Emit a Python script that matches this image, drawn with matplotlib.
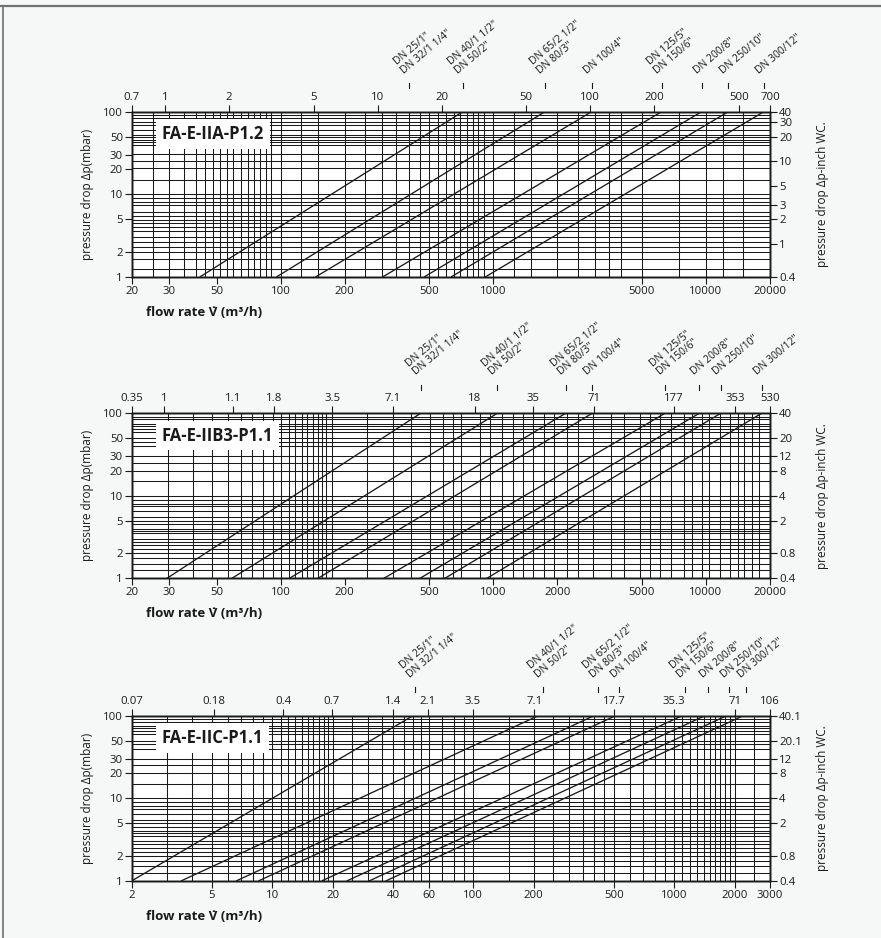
import matplotlib
matplotlib.use("Agg")
import matplotlib.pyplot as plt
from matplotlib.transforms import blended_transform_factory, ScaledTranslation
from matplotlib.lines import Line2D

plt.rcParams['font.family'] = ['Open Sans', 'DejaVu Sans']

# ---------------- FA-E-IIA-P1.2 ----------------
iia_title = "FA-E-IIA-P1.2"
iia_xlim = (20, 20000)
iia_xticks = [20, 30, 50, 100, 200, 500, 1000, 5000, 10000, 20000]
iia_top_pos = [20, 28.6, 57.1, 142.9, 285.7, 571.4, 1428.6, 2857, 5714, 14286, 20000]
iia_top_labels = ["0.7", "1", "2", "5", "10", "20", "50", "100", "200", "500", "700"]
iia_yticks = [1, 2, 5, 10, 20, 30, 50, 100]
iia_right_pos = [1, 2.5, 5, 7.5, 12.5, 25, 50, 75, 100]
iia_right_labels = ["0.4", "1", "2", "3", "5", "10", "20", "30", "40"]
iia_q_1mbar = [41.9, 96.0, 146.6, 303, 475, 636, 921]
iia_q_100mbar = [719, 1749, 2899, 6184, 9530, 12725, 18720]
iia_dn_pos = [400, 719, 1749, 2899, 6184, 9530, 12725, 18720]
iia_vgrid = [25, 30, 35, 40, 44, 48, 52, 56, 60, 65, 70, 75, 80, 85, 90, 100,
             125, 150, 200, 250, 300, 350, 400, 450, 500, 550, 600, 650, 700,
             750, 800, 850, 900, 1000, 1250, 1500, 2000, 2500, 3000, 3500,
             4000, 5000, 7500, 10000, 12000, 15000]
iia_hgrid = [1.25, 1.65, 2, 2.3, 2.65, 3.05, 3.6, 4.05, 4.45, 4.9, 5.4, 6.1,
             7.4, 8.1, 9.1, 10, 14.9, 21, 25.3, 30.5, 39.5, 42.6, 45.8, 48.9,
             52, 60, 69, 75.7, 83.2, 91.2]

# ---------------- FA-E-IIB3-P1.1 ----------------
iib_title = "FA-E-IIB3-P1.1"
iib_xlim = (20, 20000)
iib_xticks = [20, 30, 50, 100, 200, 500, 1000, 2000, 5000, 10000, 20000]
iib_top_pos = [20, 28.4, 59.5, 93.3, 175, 338, 820, 1540, 2980, 7090, 13700, 20000]
iib_top_labels = ["0.35", "1", "1.1", "1.8", "3.5", "7.1", "18", "35", "71", "177", "353", "530"]
iib_yticks = [1, 2, 5, 10, 20, 30, 50, 100]
iib_right_pos = [1, 2, 5, 10, 20, 30, 50, 100]
iib_right_labels = ["0.4", "0.8", "2", "4", "8", "12", "20", "40"]
iib_q_1mbar = [29.2, 59.0, 110, 149.8, 306, 452, 592, 933]
iib_q_100mbar = [455, 1043, 2188, 2917, 6413, 9293, 11720, 18270]
iib_dn_pos = [455, 1043, 2188, 2917, 6413, 9293, 11720, 18270]
iib_vgrid = [29.6, 38.9, 47.3, 56.7, 65.3, 73, 83, 92.5, 100.6, 108.9, 117,
             125.7, 133.5, 142.3, 150.1, 157.2, 164, 175, 256, 337, 411, 502,
             580, 646, 706, 865, 962, 1095, 1240, 1376, 1530, 1730, 1921,
             2210, 2500, 2930, 3560, 4100, 4890, 5440, 6050, 6850, 7880, 8610,
             9580, 10280, 11620, 12920, 14110, 15140, 16530, 17750]
iib_hgrid = [1.25, 1.5, 1.75, 2, 2.25, 2.5, 2.75, 3, 3.5, 3.75, 4, 4.5, 5, 5.5,
             6.5, 7.5, 8, 9, 10, 15, 20, 25, 30, 40, 45, 50, 60, 65, 70, 75,
             85, 90]

# ---------------- FA-E-IIC-P1.1 ----------------
iic_title = "FA-E-IIC-P1.1"
iic_xlim = (2, 3000)
iic_xticks = [2, 5, 10, 20, 40, 60, 100, 200, 500, 1000, 2000, 3000]
iic_top_pos = [2, 5.1, 11.3, 19.8, 39.7, 59.5, 99.2, 201, 501, 1000, 2011, 3000]
iic_top_labels = ["0.07", "0.18", "0.4", "0.7", "1.4", "2.1", "3.5", "7.1", "17.7", "35.3", "71", "106"]
iic_yticks = [1, 2, 5, 10, 20, 30, 50, 100]
iic_right_pos = [1, 2, 5, 10, 20, 30, 50, 100]
iic_right_labels = ["0.4", "0.8", "2", "4", "8", "12", "20.1", "40.1"]
iic_q_1mbar = [2, 3.53, 6.64, 8.58, 17.7, 23.6, 30.5, 36.9]
iic_q_100mbar = [50.1, 210.6, 398.8, 511, 1097, 1423, 1824, 2208]
iic_dn_pos = [51.2, 221.4, 419, 531, 1128, 1467, 1880, 2276]
iic_vgrid = [3, 4, 5, 6, 7, 8, 9, 10, 11, 12, 13, 14, 15, 16, 17, 18, 19, 20,
             25, 30, 35, 40, 45, 50, 55, 60, 70, 80, 90, 100, 150, 200, 250,
             300, 350, 400, 450, 500, 600, 700, 800, 900, 1000, 1100, 1200,
             1300, 1400, 1500, 1600, 1700, 1800, 1900, 2000, 2500]
iic_hgrid = [1.25, 1.5, 1.75, 2, 2.25, 2.5, 2.75, 3, 3.5, 3.75, 4, 4.5, 5, 5.5,
             6.5, 7.5, 8, 9, 10, 15, 20, 25, 30, 40, 45, 50, 60, 65, 70, 75,
             85, 90]

dn_labels = ['DN 25/1"\nDN 32/1 1/4"', 'DN 40/1 1/2"\nDN 50/2"',
             'DN 65/2 1/2"\nDN 80/3"', 'DN 100/4"', 'DN 125/5"\nDN 150/6"',
             'DN 200/8"', 'DN 250/10"', 'DN 300/12"']

panels = [
    dict(title=iia_title, xlim=iia_xlim, xticks=iia_xticks, top_pos=iia_top_pos,
         top_labels=iia_top_labels, yticks=iia_yticks, right_pos=iia_right_pos,
         right_labels=iia_right_labels, q1=iia_q_1mbar, q100=iia_q_100mbar,
         dn_pos=iia_dn_pos, vgrid=iia_vgrid, hgrid=iia_hgrid, top_px=111.7),
    dict(title=iib_title, xlim=iib_xlim, xticks=iib_xticks, top_pos=iib_top_pos,
         top_labels=iib_top_labels, yticks=iib_yticks, right_pos=iib_right_pos,
         right_labels=iib_right_labels, q1=iib_q_1mbar, q100=iib_q_100mbar,
         dn_pos=iib_dn_pos, vgrid=iib_vgrid, hgrid=iib_hgrid, top_px=413.3),
    dict(title=iic_title, xlim=iic_xlim, xticks=iic_xticks, top_pos=iic_top_pos,
         top_labels=iic_top_labels, yticks=iic_yticks, right_pos=iic_right_pos,
         right_labels=iic_right_labels, q1=iic_q_1mbar, q100=iic_q_100mbar,
         dn_pos=iic_dn_pos, vgrid=iic_vgrid, hgrid=iic_hgrid, top_px=715.7),
]

W, H = 881, 938
BG = "#f6f7f7"
INK = "#1a1a1a"
fig = plt.figure(figsize=(W / 100, H / 100), dpi=100, facecolor=BG)

# page frame: rule along the top and the left edge
fig.add_artist(Line2D([0, 1], [1 - 6 / H, 1 - 6 / H], transform=fig.transFigure,
                      color="#707070", linewidth=1.6))
fig.add_artist(Line2D([2.5 / W, 2.5 / W], [0, 1 - 6 / H], transform=fig.transFigure,
                      color="#707070", linewidth=1.2))

AX_L, AX_W, AX_H = 132, 638, 165
tick_kw = dict(direction="out", length=5, width=0.8, colors=INK,
               labelsize=8.2, pad=1.5)

for p in panels:
    bottom = H - (p["top_px"] + AX_H)
    ax = fig.add_axes([AX_L / W, bottom / H, AX_W / W, AX_H / H])
    ax.set_facecolor("white")
    ax.set_xscale("log")
    ax.set_yscale("log")
    ax.set_xlim(*p["xlim"])
    ax.set_ylim(1, 100)

    # background grid
    ax.vlines(p["vgrid"], 1, 100, colors=INK, linewidth=0.75, zorder=1)
    ax.hlines(p["hgrid"], *p["xlim"], colors=INK, linewidth=0.75, zorder=1)

    # pressure-drop characteristic lines
    for q1, q100 in zip(p["q1"], p["q100"]):
        ax.plot([q1, q100], [1, 100], color=INK, linewidth=0.95, zorder=3)

    ax.set_xticks(p["xticks"])
    ax.set_xticklabels([str(v) for v in p["xticks"]])
    ax.set_yticks(p["yticks"])
    ax.set_yticklabels([str(v) for v in p["yticks"]])
    ax.minorticks_off()
    ax.tick_params(**tick_kw)
    for s in ax.spines.values():
        s.set_linewidth(1.0)
        s.set_color(INK)

    top = ax.twiny()
    top.set_xscale("log")
    top.set_xlim(ax.get_xlim())
    top.set_xticks(p["top_pos"])
    top.set_xticklabels(p["top_labels"])
    top.minorticks_off()
    top.tick_params(**tick_kw)

    right = ax.twinx()
    right.set_yscale("log")
    right.set_ylim(ax.get_ylim())
    right.set_yticks(p["right_pos"])
    right.set_yticklabels(p["right_labels"])
    right.minorticks_off()
    right.tick_params(**tick_kw)
    for a in (top, right):
        for s in a.spines.values():
            s.set_linewidth(1.0)
            s.set_color(INK)

    # panel title
    ax.text(0.047, 0.865, p["title"], transform=ax.transAxes, ha="left",
            va="center", fontsize=12, fontweight="bold", color=INK, zorder=10,
            bbox=dict(boxstyle="square,pad=0.35", facecolor="white",
                      edgecolor="none"))

    # axis titles
    ax.text(0.022, -0.215, "flow rate V\u0307 (m\u00b3/h)", transform=ax.transAxes,
            ha="left", va="center", fontsize=9.5, fontweight="bold", color=INK)
    ax.text(-0.069, 0.5, "pressure drop \u0394p(mbar)", transform=ax.transAxes,
            ha="center", va="center", rotation=90, fontsize=8.5, color=INK)
    ax.text(1.083, 0.5, "pressure drop \u0394p-inch WC.", transform=ax.transAxes,
            ha="center", va="center", rotation=90, fontsize=8.5, color=INK)

    # nominal-size markers above the chart
    bt = blended_transform_factory(ax.transData, ax.transAxes)
    shift = ScaledTranslation(-3 / 100, 0, fig.dpi_scale_trans)
    for xv, lab in zip(p["dn_pos"], dn_labels):
        ax.plot([xv, xv], [1.144, 1.174], transform=bt, color=INK,
                linewidth=0.8, clip_on=False)
        ax.text(xv, 1.216, lab, transform=bt + shift, rotation=40,
                rotation_mode="anchor", ha="left", va="bottom", fontsize=7.5,
                color=INK, linespacing=1.0)

fig.savefig("out.png", dpi=100, facecolor=BG)
